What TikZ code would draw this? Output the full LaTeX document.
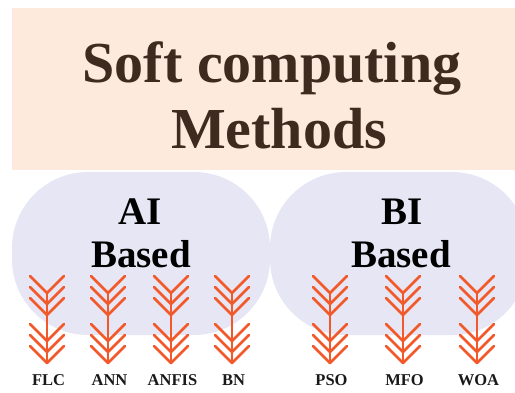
\documentclass[tikz,border=0pt]{standalone}
\usepackage{fontspec}
\setmainfont{Liberation Serif}
\usetikzlibrary{calc}
\definecolor{peach}{HTML}{FDEADD}
\definecolor{lavender}{HTML}{E6E6F5}
\definecolor{arroworange}{HTML}{F2592A}
\definecolor{titlebrown}{HTML}{3F2A1F}
\tikzset{
    bigtitle/.style={font=\fontsize{58}{66}\selectfont\bfseries,text=titlebrown,anchor=base,inner sep=0pt},
    groupname/.style={font=\fontsize{39}{44}\selectfont\bfseries,text=black,anchor=base,inner sep=0pt},
    methodlabel/.style={font=\fontsize{16.5}{18}\selectfont\bfseries,text=black!90,anchor=base,inner sep=0pt},
    fletch/.pic={
        % feathers on top
        \foreach \y in {0,11,22}
            \draw (-17,\y) -- (0,\y+17) -- (17,\y);
        % head below
        \foreach \y in {48,59,70}
            \draw (-17,\y) -- (0,\y+17) -- (17,\y);
        \draw (0,17) -- (0,87);
    }
}
\begin{document}
\begin{tikzpicture}[x=1pt,y=-1pt]
    \useasboundingbox (0,0) rectangle (515,392);
    \clip (0,0) rectangle (515,392);
    % header
    \fill[peach] (12,8) rectangle (515,170);
    \node[bigtitle] (title1) at (272,82) {Soft computing};
    \node[bigtitle] (title2) at (279,148) {Methods};
    % two groups
    \fill[lavender,rounded corners=76pt] (12,172) rectangle (270,335);
    \fill[lavender,rounded corners=76pt] (270,172) rectangle (528,335);
    \node[groupname] (ai) at (140,224) {AI};
    \node[groupname] (aibased) at (141,267) {Based};
    \node[groupname] (bi) at (402,224) {BI};
    \node[groupname] (bibased) at (401,267) {Based};
    % methods
    \foreach \x/\name/\lbl in {47/flc/FLC,108/ann/ANN,171/anfis/ANFIS,232/bn/BN,330/pso/PSO,403/mfo/MFO,477/woa/WOA}{
        \pic[draw=arroworange,line width=2.8pt,line cap=round,line join=round] at (\x,276) {fletch};
        \node[methodlabel] (\name) at (\x+1.5,385) {\lbl};
    }
\end{tikzpicture}
\end{document}
